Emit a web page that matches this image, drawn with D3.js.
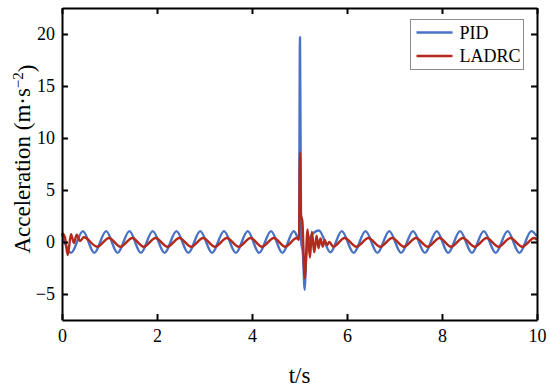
<!DOCTYPE html>
<html>
<head>
<meta charset="utf-8">
<script src="https://cdn.jsdelivr.net/npm/d3@7"></script>
<style>
	body { margin:0; background:#fff; }
</style>
</head>
<body>
<div class="c_chart"></div>
<script>
/*DATA
------------------------------------------------------
------------------------------------------------------
*/
const seriesNames = ["PID", "LADRC"];
const xTicks = [0, 2, 4, 6, 8, 10];
const yTicks = [-5, 0, 5, 10, 15, 20];

//PID : temps (s) et accélération
const pidT = [0, 0.19, 0.44, 0.68, 0.93, 1.17, 1.42, 1.66, 1.91, 2.16, 2.41, 2.66, 2.91, 3.16, 3.41, 3.66, 3.91, 4.15, 4.40, 4.64, 4.88,
	4.99, 5.01, 5.035, 5.07, 5.11, 5.14, 5.20, 5.41, 5.65,
	5.89, 6.14, 6.39, 6.64, 6.89, 7.14, 7.39, 7.64, 7.89, 8.13, 8.38, 8.63, 8.88, 9.13, 9.38, 9.63, 9.88, 10];
const pidA = [0.8, -1.05, 1.05, -1.05, 1.05, -1.05, 1.05, -1.05, 1.05, -1.05, 1.05, -1.05, 1.05, -1.05, 1.05, -1.05, 1.05, -1.05, 1.05, -1.05, 1.05,
	0.3, 19.7, 0, -1, -4.6, -1.5, 0.3, 1.1, -1.0,
	1.05, -1.05, 1.05, -1.05, 1.05, -1.05, 1.05, -1.05, 1.05, -1.05, 1.05, -1.05, 1.05, -1.05, 1.05, -1.05, 1.05, 0.55];

//LADRC
const ladrcT = [0, 0.06, 0.12, 0.19, 0.25, 0.31, 0.38, 0.46,
	0.74, 0.99, 1.23, 1.48, 1.72, 1.97, 2.22, 2.47, 2.72, 2.97, 3.22, 3.47, 3.72, 3.97, 4.21, 4.46, 4.70, 4.94,
	4.99, 5.01, 5.03, 5.06, 5.11, 5.17, 5.22, 5.26, 5.31, 5.36, 5.40, 5.44, 5.49, 5.53, 5.58, 5.63,
	5.71, 5.95, 6.20, 6.45, 6.70, 6.95, 7.20, 7.45, 7.70, 7.95, 8.19, 8.44, 8.69, 8.94, 9.19, 9.44, 9.69, 9.94, 10];
const ladrcA = [0.9, 0.5, -1.25, 0.75, -0.1, 0.7, 0.1, 0.45,
	-0.45, 0.38, -0.45, 0.38, -0.45, 0.38, -0.45, 0.38, -0.45, 0.38, -0.45, 0.38, -0.45, 0.38, -0.45, 0.38, -0.45, 0.38,
	0.2, 8.6, 2.6, 2.0, -3.5, 1.2, -1.5, 1.0, -1.0, 0.6, -0.6, 0.35, -0.45, 0.2, -0.3, 0.0,
	-0.45, 0.38, -0.45, 0.38, -0.45, 0.38, -0.45, 0.38, -0.45, 0.38, -0.45, 0.38, -0.45, 0.38, -0.45, 0.38, -0.45, 0.38, 0.2];

const colors = ["#4a72c4", "#b3291c"];
const serif = "'Liberation Serif', 'Times New Roman', Times, serif";

/*SVG, FORMAT
------------------------------------------------------
------------------------------------------------------
*/
const width = 550;
const height = 390;
const margin = {top:8, right:13, bottom:70, left:62};

let svg = d3.select(".c_chart")
	.append("svg")
	.attr("width", width)
	.attr("height", height)
	.style("font-family", serif);

let x = d3.scaleLinear()
	.domain([0, 10])
	.range([margin.left, width - margin.right]);

let y = d3.scaleLinear()
	.domain([-7.5, 22.5])
	.range([height - margin.bottom, margin.top]);

/*LIGNES
------------------------------------------------------
------------------------------------------------------
*/
let line = d3.line()
	.x(d => x(d[0]))
	.y(d => y(d[1]))
	.curve(d3.curveMonotoneX);

const series = [
	d3.zip(pidT, pidA),
	d3.zip(ladrcT, ladrcA)
];

svg.selectAll(".serie")
	.data(series)
	.enter()
	.append("path")
	.attr("class", "serie")
	.attr("d", line)
	.attr("fill", "none")
	.attr("stroke", (d, i) => colors[i])
	.attr("stroke-width", 2.4)
	.attr("stroke-linejoin", "round");

/*AXES
------------------------------------------------------
------------------------------------------------------
*/
const fontTick = "18px";

let axisB = svg.append("g")
	.attr("transform", `translate(0,${y(-7.5)})`)
	.call(d3.axisBottom(x).tickValues(xTicks).tickSizeInner(-6).tickSizeOuter(0).tickPadding(9));
let axisT = svg.append("g")
	.attr("transform", `translate(0,${y(22.5)})`)
	.call(d3.axisTop(x).tickValues(xTicks).tickSizeInner(-6).tickSizeOuter(0).tickFormat(""));
let axisL = svg.append("g")
	.attr("transform", `translate(${x(0)},0)`)
	.call(d3.axisLeft(y).tickValues(yTicks).tickSizeInner(-6).tickSizeOuter(0).tickPadding(7));
let axisR = svg.append("g")
	.attr("transform", `translate(${x(10)},0)`)
	.call(d3.axisRight(y).tickValues(yTicks).tickSizeInner(-6).tickSizeOuter(0).tickFormat(""));

[axisB, axisT, axisL, axisR].forEach(g => {
	g.attr("font-family", null).attr("font-size", null);
	g.select(".domain").attr("stroke", "#000").attr("stroke-width", 2);
	g.selectAll(".tick line").attr("stroke", "#000").attr("stroke-width", 2);
	g.selectAll(".tick text")
		.style("font-family", serif)
		.style("font-size", fontTick)
		.attr("fill", "#000");
});

//Titres des axes
svg.append("text")
	.attr("x", (x(0) + x(10)) / 2)
	.attr("y", 383)
	.attr("text-anchor", "middle")
	.style("font-family", serif)
	.style("font-size", "23px")
	.text("t/s");

let yTitle = svg.append("text")
	.attr("transform", `translate(30,159) rotate(-90)`)
	.attr("text-anchor", "middle")
	.style("font-family", serif)
	.style("font-size", "23px");
yTitle.append("tspan").text("Acceleration (m·s");
yTitle.append("tspan").attr("dy", "-0.45em").style("font-size", "15px").text("−2");
yTitle.append("tspan").attr("dy", "0.45em").text(")");

/*LEGENDE
------------------------------------------------------
------------------------------------------------------
*/
let legend = svg.append("g").attr("transform", "translate(410.5,19.5)");

legend.append("rect")
	.attr("width", 113)
	.attr("height", 50)
	.attr("fill", "#fff")
	.attr("stroke", "#8c8c8c")
	.attr("stroke-width", 1);

let items = legend.selectAll(".item")
	.data(seriesNames)
	.enter()
	.append("g")
	.attr("class", "item")
	.attr("transform", (d, i) => `translate(0,${13 + i * 23.5})`);

items.append("line")
	.attr("x1", 6)
	.attr("x2", 42)
	.attr("stroke", (d, i) => colors[i])
	.attr("stroke-width", 2.4);

items.append("text")
	.attr("x", 49)
	.attr("dy", "0.35em")
	.style("font-family", serif)
	.style("font-size", "18px")
	.text(d => d);
</script>
</body>
</html>
